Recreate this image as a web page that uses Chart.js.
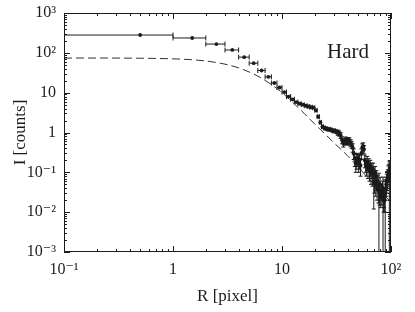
<!DOCTYPE html>
<html>
<head>
<meta charset="utf-8">
<script src="https://cdn.jsdelivr.net/npm/chart.js@4/dist/chart.umd.min.js"></script>
<style>
  html, body { margin: 0; padding: 0; background: #fff; }
</style>
</head>
<body>
<canvas id="c" width="415" height="312"></canvas>
<script>
// radial profile in 1-pixel annuli (bin centres)
const radius = [
  0.5, 1.5, 2.5, 3.5, 4.5, 5.5, 6.5, 7.5, 8.5, 9.5,
  10.5, 11.5, 12.5, 13.5, 14.5, 15.5, 16.5, 17.5, 18.5, 19.5,
  20.5, 21.5, 22.5, 23.5, 24.5, 25.5, 26.5, 27.5, 28.5, 29.5,
  30.5, 31.5, 32.5, 33.5, 34.5, 35.5, 36.5, 37.5, 38.5, 39.5,
  40.5, 41.5, 42.5, 43.5, 44.5, 45.5, 46.5, 47.5, 48.5, 49.5,
  50.5, 51.5, 52.5, 53.5, 54.5, 55.5, 56.5, 57.5, 58.5, 59.5,
  60.5, 61.5, 62.5, 63.5, 64.5, 65.5, 66.5, 67.5, 68.5, 69.5,
  70.5, 71.5, 72.5, 73.5, 74.5, 75.5, 76.5, 77.5, 78.5, 79.5,
  80.5, 81.5, 82.5, 83.5, 84.5, 85.5, 86.5, 87.5, 88.5, 89.5,
  90.5, 91.5, 92.5, 93.5, 94.5, 95.5, 96.5, 97.5, 98.5, 99.5
];
const counts = [
  280, 236, 166, 118, 78, 55, 36, 25, 17.5, 13.5,
  10.3, 8.0, 6.8, 5.8, 5.3, 5.0, 4.7, 4.5, 4.3, 4.2,
  3.6, 2.5, 1.8, 1.4, 1.3, 1.25, 1.2, 1.2, 1.15, 1.1,
  1.1, 1.05, 1.0, 0.95, 0.85, 0.65, 0.55, 0.6, 0.65, 0.62,
  0.6, 0.62, 0.55, 0.5, 0.42, 0.3, 0.22, 0.17, 0.2, 0.22,
  0.18, 0.2, 0.15, 0.3, 0.42, 0.45, 0.38, 0.2, 0.16, 0.14,
  0.18, 0.13, 0.16, 0.11, 0.14, 0.1, 0.12, 0.09, 0.12, 0.056,
  0.06, 0.1, 0.05, 0.08, 0.04, 0.06, 0.035, 0.045, 0.03, 0.05,
  0.025, 0.035, 0.03, 0.04, 0.036, 0.02, 0.025, 0.02, 0.03, 0.04,
  0.05, 0.06, 0.07, 0.08, 0.1, 0.11, 0.09, 0.12, 0.08, 0.06
];
const sigma = [
  6, 5, 4, 3, 2, 1.5, 1, 0.8, 0.6, 0.5,
  0.45, 0.4, 0.35, 0.3, 0.3, 0.3, 0.3, 0.3, 0.3, 0.3,
  0.3, 0.25, 0.2, 0.18, 0.17, 0.16, 0.15, 0.15, 0.15, 0.15,
  0.15, 0.15, 0.15, 0.14, 0.14, 0.13, 0.12, 0.12, 0.12, 0.12,
  0.12, 0.12, 0.11, 0.1, 0.1, 0.09, 0.08, 0.07, 0.08, 0.08,
  0.08, 0.08, 0.07, 0.09, 0.1, 0.1, 0.09, 0.07, 0.06, 0.06,
  0.07, 0.06, 0.06, 0.05, 0.06, 0.05, 0.05, 0.045, 0.05, 0.044,
  0.03, 0.04, 0.025, 0.03, 0.02, 0.025, 0.018, 0.05, 0.015, 0.025,
  0.012, 0.015, 0.015, 0.02, 0.04, 0.01, 0.012, 0.01, 0.035, 0.02,
  0.025, 0.03, 0.035, 0.035, 0.045, 0.045, 0.1, 0.05, 0.04, 0.035
];
const binWidth = 1;

// dashed model (PSF) curve
const modelR = [0.1, 0.2, 0.5, 1, 1.5, 2, 3, 4, 5, 6, 8, 10, 13, 16, 20, 25, 30, 40, 50, 60, 70, 80, 90, 100];
const modelI = [74, 74, 73.2, 70.7, 67, 62.5, 52, 42, 33, 26, 16, 10, 5.2, 3.0, 1.62, 0.9, 0.55, 0.26, 0.135, 0.078, 0.05, 0.033, 0.024, 0.018];

const xDecades = [0.1, 1, 10, 100];
const xTickLabels = ['10⁻¹', '1', '10', '10²'];
const yDecades = [0.001, 0.01, 0.1, 1, 10, 100, 1000];
const yTickLabels = ['10⁻³', '10⁻²', '10⁻¹', '1', '10', '10²', '10³'];
const panelLabel = 'Hard';

const SERIF = '"Liberation Serif", "DejaVu Serif", serif';
const INK = '#1c1c1c';

function decadeLabel(decades, labels) {
  return v => {
    const i = decades.findIndex(d => Math.abs(Math.log10(v) - Math.log10(d)) < 1e-6);
    return i >= 0 ? labels[i] : '';
  };
}

const points = radius.map((r, i) => ({
  x: r, y: counts[i],
  xMin: r - binWidth / 2, xMax: r + binWidth / 2,
  yMin: counts[i] - sigma[i], yMax: counts[i] + sigma[i]
}));
const model = modelR.map((r, i) => ({ x: r, y: modelI[i] }));

const errorBars = {
  id: 'errorBars',
  afterDatasetsDraw(chart) {
    const { ctx, chartArea: a, scales: { x, y } } = chart;
    ctx.save();
    ctx.beginPath();
    ctx.rect(a.left, a.top, a.right - a.left, a.bottom - a.top);
    ctx.clip();
    ctx.strokeStyle = INK;
    ctx.lineWidth = 1;
    ctx.beginPath();
    chart.data.datasets[0].data.forEach(p => {
      const px = x.getPixelForValue(p.x);
      const py = y.getPixelForValue(p.y);
      const x0 = x.getPixelForValue(Math.max(p.xMin, x.min / 2));
      const x1 = x.getPixelForValue(p.xMax);
      const y1 = y.getPixelForValue(p.yMax);
      const y0 = p.yMin > 0 ? y.getPixelForValue(p.yMin) : a.bottom + 5;
      // horizontal bar with caps
      ctx.moveTo(x0, py); ctx.lineTo(x1, py);
      ctx.moveTo(x0, py - 2.5); ctx.lineTo(x0, py + 2.5);
      ctx.moveTo(x1, py - 2.5); ctx.lineTo(x1, py + 2.5);
      // vertical bar with caps
      ctx.moveTo(px, y0); ctx.lineTo(px, y1);
      if (y0 - y1 > 5) {
        ctx.moveTo(px - 2, y1); ctx.lineTo(px + 2, y1);
        if (p.yMin > 0) { ctx.moveTo(px - 2, y0); ctx.lineTo(px + 2, y0); }
      }
    });
    ctx.stroke();
    ctx.restore();
  }
};

const frame = {
  id: 'frame',
  afterDraw(chart) {
    const { ctx, chartArea: a, scales: { x, y } } = chart;
    ctx.save();
    ctx.strokeStyle = INK;
    ctx.lineWidth = 1;
    ctx.strokeRect(a.left + 0.5, a.top + 0.5, a.right - a.left - 1, a.bottom - a.top - 1);
    ctx.beginPath();
    const isMajor = v => Math.abs(Math.log10(v) - Math.round(Math.log10(v))) < 1e-6;
    const isMinor = v => { const m = v / Math.pow(10, Math.floor(Math.log10(v) + 1e-9)); return Math.abs(m - Math.round(m)) < 1e-6; };
    x.ticks.forEach(t => {
      if (!isMajor(t.value) && !isMinor(t.value)) return;
      const len = isMajor(t.value) ? 6 : 3;
      const px = Math.round(x.getPixelForValue(t.value)) + 0.5;
      ctx.moveTo(px, a.bottom); ctx.lineTo(px, a.bottom - len);
      ctx.moveTo(px, a.top); ctx.lineTo(px, a.top + len);
    });
    y.ticks.forEach(t => {
      if (!isMajor(t.value) && !isMinor(t.value)) return;
      const len = isMajor(t.value) ? 6 : 3;
      const py = Math.round(y.getPixelForValue(t.value)) + 0.5;
      ctx.moveTo(a.left, py); ctx.lineTo(a.left + len, py);
      ctx.moveTo(a.right, py); ctx.lineTo(a.right - len, py);
    });
    ctx.stroke();
    ctx.fillStyle = INK;
    ctx.font = '21px ' + SERIF;
    ctx.textAlign = 'center';
    ctx.textBaseline = 'alphabetic';
    ctx.fillText(panelLabel, 348, 58);
    ctx.restore();
  }
};

new Chart(document.getElementById('c'), {
  type: 'scatter',
  data: {
    datasets: [
      {
        data: points,
        pointRadius: 1.9,
        pointBackgroundColor: INK,
        pointBorderWidth: 0,
        showLine: false
      },
      {
        type: 'line',
        data: model,
        borderColor: '#333',
        borderWidth: 1,
        borderDash: [8, 4],
        pointRadius: 0,
        cubicInterpolationMode: 'monotone',
        fill: false
      }
    ]
  },
  options: {
    responsive: false,
    animation: false,
    events: [],
    layout: { padding: { top: 13, right: 24, left: 0, bottom: 0 } },
    plugins: { legend: { display: false }, tooltip: { enabled: false } },
    scales: {
      x: {
        type: 'logarithmic',
        min: 0.1, max: 100,
        grid: { display: false, drawTicks: false },
        border: { display: false },
        ticks: {
          autoSkip: false, maxRotation: 0, padding: 8,
          color: INK, font: { family: SERIF, size: 16 },
          callback: decadeLabel(xDecades, xTickLabels)
        },
        title: {
          display: true, text: 'R [pixel]', color: INK,
          font: { family: SERIF, size: 17 }, padding: { top: 0, bottom: 5 }
        },
        afterFit(s) { s.height = 60; s.paddingLeft = 0; s.paddingRight = 0; }
      },
      y: {
        type: 'logarithmic',
        min: 0.001, max: 1000,
        grid: { display: false, drawTicks: false },
        border: { display: false },
        ticks: {
          autoSkip: false, padding: 8,
          color: INK, font: { family: SERIF, size: 16 },
          callback: decadeLabel(yDecades, yTickLabels)
        },
        title: {
          display: true, text: 'I [counts]', color: INK,
          font: { family: SERIF, size: 17 }, padding: { top: 10, bottom: 0 }
        },
        afterFit(s) { s.width = 64; s.paddingTop = 0; s.paddingBottom = 0; }
      }
    }
  },
  plugins: [errorBars, frame]
});
</script>
</body>
</html>
